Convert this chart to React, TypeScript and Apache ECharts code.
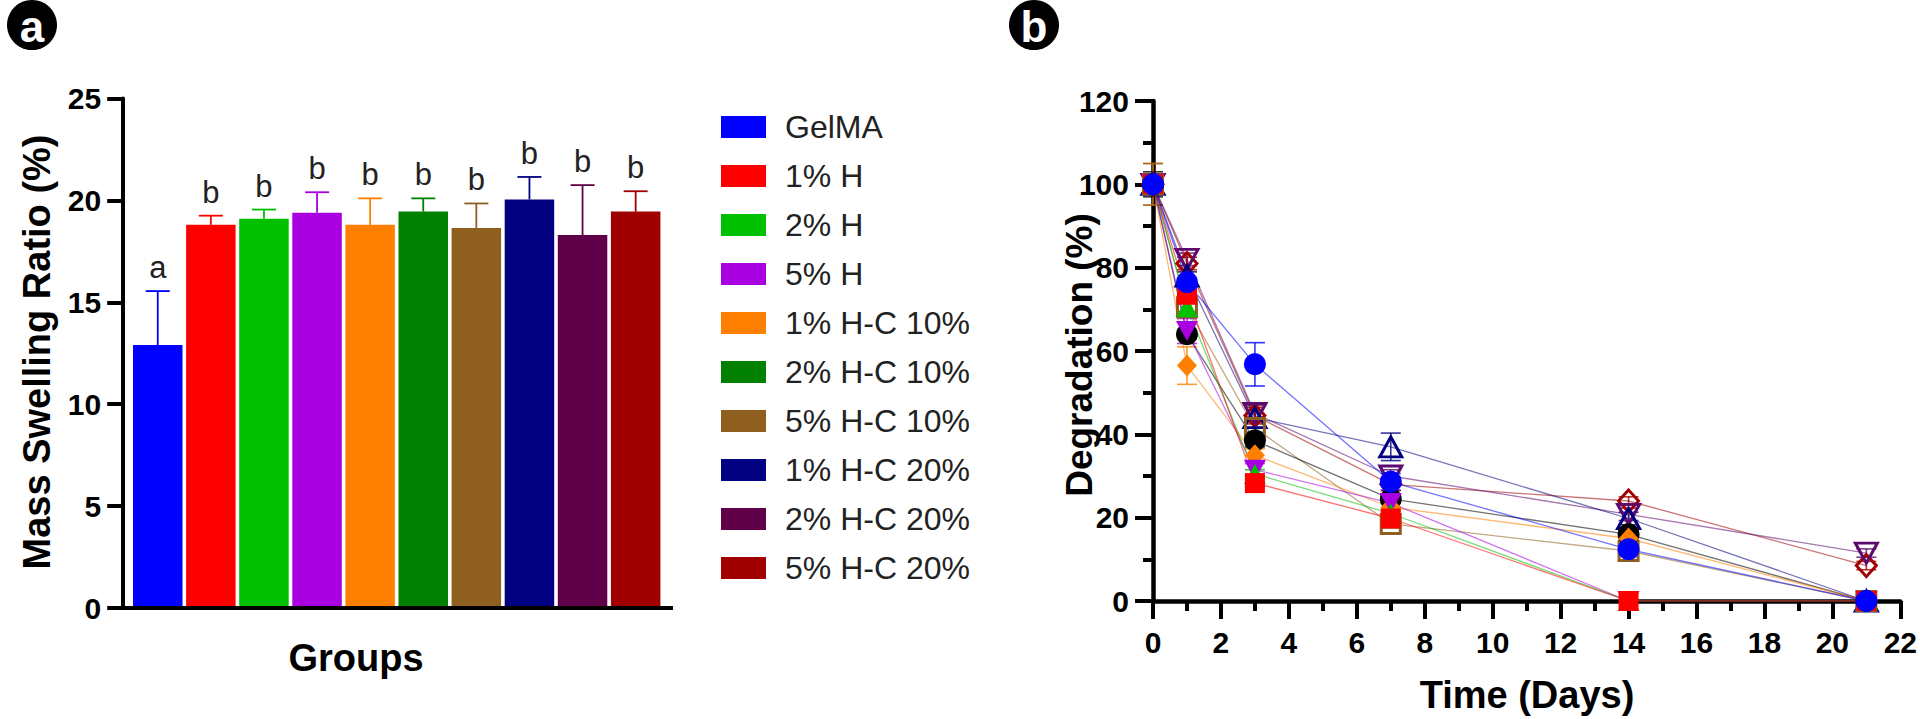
import React, { useEffect, useRef } from "react";
import * as echarts from "echarts";

const FONT = "'Liberation Sans', Arial, Helvetica, sans-serif";

const groups = ["GelMA", "1% H", "2% H", "5% H", "1% H-C 10%", "2% H-C 10%", "5% H-C 10%", "1% H-C 20%", "2% H-C 20%", "5% H-C 20%"];
const barColors = ["#0000FF", "#FF0000", "#00C000", "#A800E0", "#FF8000", "#008000", "#8E5F1F", "#000080", "#600048", "#A00000"];
const lineColors = ["#0000FF", "#FF0000", "#00C000", "#A800E0", "#FF8000", "#000000", "#8E5F1F", "#000080", "#5C0A6E", "#A00000"];

// Panel a: mass swelling ratio (%)
const swellMean = [12.9, 18.8, 19.1, 19.4, 18.8, 19.45, 18.65, 20.05, 18.3, 19.45];
const swellSD = [2.65, 0.45, 0.45, 1.0, 1.3, 0.65, 1.2, 1.1, 2.45, 1.0];
const sigLetters = ["a", "b", "b", "b", "b", "b", "b", "b", "b", "b"];
const swellTicks = [0, 5, 10, 15, 20, 25];

// Panel b: degradation (%) over time
const days = [0, 1, 3, 7, 14, 21];
const degGelMA = [100, 76.5, 56.8, 28.6, 12.4, 0];
const deg1H = [100, 73.5, 28.3, 19.8, 0, 0];
const deg2H = [100, 70.5, 30.5, 21, 0, 0];
const deg5H = [100, 64.8, 31.5, 23.5, 0, 0];
const deg1HC10 = [100, 56.5, 35, 22.5, 15, 0];
const deg2HC10 = [100, 64, 38.5, 24.5, 16, 0];
const deg5HC10 = [100, 70.5, 41.5, 18.5, 12, 0];
const deg1HC20 = [100, 78, 44, 37, 19.8, 0];
const deg2HC20 = [100, 82, 45, 30, 20.8, 11.5];
const deg5HC20 = [100, 81, 44.5, 28, 24, 8.5];
const degValues = [degGelMA, deg1H, deg2H, deg5H, deg1HC10, deg2HC10, deg5HC10, deg1HC20, deg2HC20, deg5HC20];

const sdGelMA = [1, 1, 5.2, 2, 1, 0];
const sd1H = [1.5, 1, 1, 1, 0, 0];
const sd2H = [1.5, 1, 1, 1, 0, 0];
const sd5H = [2, 3, 1.5, 1, 0, 0];
const sd1HC10 = [5, 4.5, 1.5, 1, 1, 0];
const sd2HC10 = [3, 1, 1.5, 1, 1, 0];
const sd5HC10 = [5, 1.5, 2, 1, 1, 0];
const sd1HC20 = [2, 1, 3.5, 3.3, 1.5, 0];
const sd2HC20 = [2, 1.5, 2, 1.5, 1.5, 1];
const sd5HC20 = [2, 1.5, 2, 1.5, 1, 1];
const degSD = [sdGelMA, sd1H, sd2H, sd5H, sd1HC10, sd2HC10, sd5HC10, sd1HC20, sd2HC20, sd5HC20];

const degTicks = [0, 20, 40, 60, 80, 100, 120];
const dayTicks = [0, 2, 4, 6, 8, 10, 12, 14, 16, 18, 20, 22];

// marker definitions (GraphPad-like)
const markerShape = ["circle", "rect", "triangle", "triangle", "diamond", "circle", "rect", "triangle", "triangle", "diamond"];
const markerRotate = [0, 0, 0, 180, 0, 0, 0, 0, 180, 0];
const markerHollow = [false, false, false, false, false, false, true, true, true, true];
const markerSize: any[] = [22, 20, [22, 20], [22, 20], [20, 22], 22, 19, [22, 20], [22, 20], [20, 22]];

export default function App() {
  const ref = useRef<HTMLDivElement>(null);

  useEffect(() => {
    if (!ref.current) return;
    const chart = echarts.init(ref.current, null, { renderer: "svg" });

    const barSeries = groups.map((g, i) => ({
      type: "bar",
      name: g,
      xAxisIndex: 0,
      yAxisIndex: 0,
      barWidth: 49.5,
      barGap: "-100%",
      data: swellMean.map((v, j) => (j === i ? v : "-")),
      itemStyle: { color: barColors[i] },
      z: 2,
    }));

    const barErr = {
      type: "custom",
      name: "swellErr",
      xAxisIndex: 0,
      yAxisIndex: 0,
      z: 4,
      data: groups.map((g, i) => [i, swellMean[i], swellSD[i]]),
      renderItem: (params: any, api: any) => {
        const i = api.value(0);
        const m = api.value(1);
        const sd = api.value(2);
        const base = api.coord([i, m]);
        const top = api.coord([i, m + sd]);
        const c = barColors[i];
        return {
          type: "group",
          children: [
            { type: "line", shape: { x1: base[0], y1: base[1], x2: top[0], y2: top[1] }, style: { stroke: c, lineWidth: 1.8 } },
            { type: "line", shape: { x1: top[0] - 12, y1: top[1], x2: top[0] + 12, y2: top[1] }, style: { stroke: c, lineWidth: 1.8 } },
            {
              type: "text",
              x: top[0],
              y: top[1] - 8,
              style: { text: sigLetters[i], fontSize: 31, fontFamily: FONT, fill: "#222", align: "center", verticalAlign: "bottom" },
            },
          ],
        };
      },
    };

    const lineSeries: any[] = [];
    for (let i = groups.length - 1; i >= 0; i--) {
      const c = lineColors[i];
      lineSeries.push({
        type: "line",
        name: groups[i],
        xAxisIndex: 1,
        yAxisIndex: 1,
        data: days.map((d, j) => [d, degValues[i][j]]),
        symbol: markerShape[i],
        symbolSize: markerSize[i],
        symbolRotate: markerRotate[i],
        showAllSymbol: true,
        itemStyle: markerHollow[i]
          ? { color: "rgba(255,255,255,0)", borderColor: c, borderWidth: 3 }
          : { color: c, borderWidth: 0 },
        lineStyle: { color: c, width: 1.3, opacity: 0.55 },
        z: 3,
      });
    }

    const degErrData: any[] = [];
    groups.forEach((g, i) => {
      days.forEach((d, j) => {
        if (degSD[i][j] > 0) degErrData.push([d, degValues[i][j], degSD[i][j], i]);
      });
    });
    const degErr = {
      type: "custom",
      name: "degErr",
      xAxisIndex: 1,
      yAxisIndex: 1,
      z: 2,
      data: degErrData,
      renderItem: (params: any, api: any) => {
        const d = api.value(0);
        const m = api.value(1);
        const sd = api.value(2);
        const gi = api.value(3);
        const lo = api.coord([d, m - sd]);
        const hi = api.coord([d, m + sd]);
        const c = lineColors[gi];
        const st = { stroke: c, lineWidth: 1.6, opacity: 0.8 };
        return {
          type: "group",
          children: [
            { type: "line", shape: { x1: lo[0], y1: lo[1], x2: hi[0], y2: hi[1] }, style: st },
            { type: "line", shape: { x1: hi[0] - 10, y1: hi[1], x2: hi[0] + 10, y2: hi[1] }, style: st },
            { type: "line", shape: { x1: lo[0] - 10, y1: lo[1], x2: lo[0] + 10, y2: lo[1] }, style: st },
          ],
        };
      },
    };

    const axisLabelBold = { color: "#000", fontFamily: FONT, fontWeight: "bold", fontSize: 30 };

    const option: any = {
      animation: false,
      backgroundColor: "#fff",
      textStyle: { fontFamily: FONT },
      legend: {
        orient: "vertical",
        left: 716,
        top: 106,
        itemWidth: 45,
        itemHeight: 22,
        itemGap: 17,
        selectedMode: false,
        textStyle: { fontSize: 32, color: "#222", fontFamily: FONT, padding: [0, 0, 0, 14] },
        data: groups.map((g, i) => ({ name: g, icon: "rect", itemStyle: { color: barColors[i] } })),
      },
      grid: [
        { left: 131.2, top: 98.5, width: 531, height: 509.5 },
        { left: 1153, top: 101, width: 750, height: 500 },
      ],
      xAxis: [
        {
          type: "category",
          gridIndex: 0,
          data: groups,
          axisLine: { show: false },
          axisTick: { show: false },
          axisLabel: { show: false },
          splitLine: { show: false },
        },
        {
          type: "value",
          gridIndex: 1,
          min: dayTicks[0],
          max: dayTicks[dayTicks.length - 1],
          interval: 2,
          axisLine: { show: true, lineStyle: { color: "#000", width: 4.5 } },
          axisTick: { show: true, length: 18, lineStyle: { color: "#000", width: 4 } },
          minorTick: { show: true, splitNumber: 2, length: 10, lineStyle: { color: "#000", width: 4 } },
          splitLine: { show: false },
          axisLabel: { ...axisLabelBold, margin: 26 },
        },
      ],
      yAxis: [
        {
          type: "value",
          gridIndex: 0,
          min: swellTicks[0],
          max: swellTicks[swellTicks.length - 1],
          interval: 5,
          offset: 8,
          axisLine: { show: true, lineStyle: { color: "#000", width: 4 } },
          axisTick: { show: true, length: 16, lineStyle: { color: "#000", width: 4 } },
          splitLine: { show: false },
          axisLabel: { ...axisLabelBold, margin: 22 },
        },
        {
          type: "value",
          gridIndex: 1,
          min: degTicks[0],
          max: degTicks[degTicks.length - 1],
          interval: 20,
          axisLine: { show: true, lineStyle: { color: "#000", width: 4.5 } },
          axisTick: { show: true, length: 18, lineStyle: { color: "#000", width: 4 } },
          minorTick: { show: true, splitNumber: 2, length: 10, lineStyle: { color: "#000", width: 4 } },
          splitLine: { show: false },
          axisLabel: { ...axisLabelBold, margin: 24 },
        },
      ],
      graphic: [
        { type: "line", shape: { x1: 121, y1: 608, x2: 673, y2: 608 }, style: { stroke: "#000", lineWidth: 4 }, z: 10 },
        { type: "circle", shape: { cx: 32, cy: 25, r: 25 }, style: { fill: "#000" } },
        { type: "text", x: 32, y: 26, style: { text: "a", fill: "#fff", fontSize: 44, fontWeight: "bold", fontFamily: FONT, align: "center", verticalAlign: "middle" } },
        { type: "circle", shape: { cx: 1034, cy: 25, r: 25 }, style: { fill: "#000" } },
        { type: "text", x: 1034, y: 26, style: { text: "b", fill: "#fff", fontSize: 44, fontWeight: "bold", fontFamily: FONT, align: "center", verticalAlign: "middle" } },
        { type: "text", x: 37, y: 352, rotation: Math.PI / 2, style: { text: "Mass Swelling Ratio (%)", fill: "#000", fontSize: 38, fontWeight: "bold", fontFamily: FONT, align: "center", verticalAlign: "middle" } },
        { type: "text", x: 356, y: 658, style: { text: "Groups", fill: "#000", fontSize: 38, fontWeight: "bold", fontFamily: FONT, align: "center", verticalAlign: "middle" } },
        { type: "text", x: 1079, y: 355, rotation: Math.PI / 2, style: { text: "Degradation (%)", fill: "#000", fontSize: 37, fontWeight: "bold", fontFamily: FONT, align: "center", verticalAlign: "middle" } },
        { type: "text", x: 1527, y: 695, style: { text: "Time (Days)", fill: "#000", fontSize: 38, fontWeight: "bold", fontFamily: FONT, align: "center", verticalAlign: "middle" } },
      ],
      series: [...barSeries, barErr, degErr, ...lineSeries],
    };

    chart.setOption(option);
    return () => chart.dispose();
  }, []);

  return <div ref={ref} style={{ position: "fixed", left: 0, top: 0, width: 1920, height: 719, background: "#fff" }} />;
}
